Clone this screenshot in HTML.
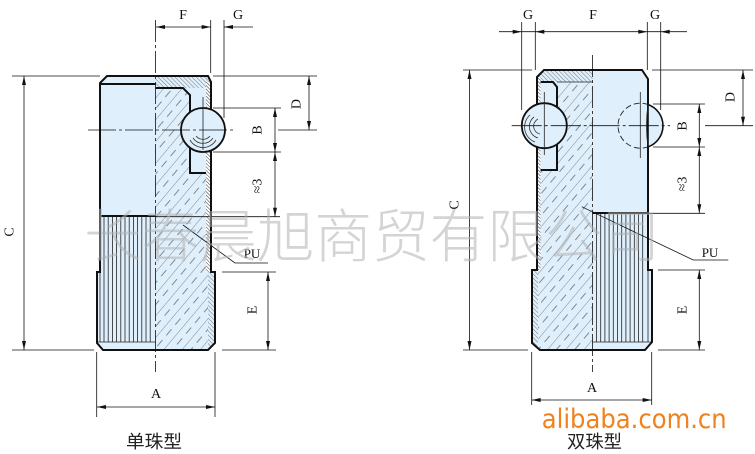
<!DOCTYPE html>
<html><head><meta charset="utf-8">
<style>
html,body{margin:0;padding:0;background:#fff;}
svg{display:block;}
.t{font-family:"Liberation Serif",serif;font-size:14px;fill:#111;}
</style></head>
<body>
<svg width="755" height="454" viewBox="0 0 755 454" xmlns="http://www.w3.org/2000/svg">
<defs>
<pattern id="h1" width="14" height="14" patternUnits="userSpaceOnUse" patternTransform="rotate(40)">
<line x1="0" y1="0" x2="0" y2="14" stroke="#444" stroke-width="0.6"/>
<line x1="7" y1="2" x2="7" y2="10" stroke="#444" stroke-width="0.6"/>
</pattern>
<pattern id="h2" width="3" height="3" patternUnits="userSpaceOnUse" patternTransform="rotate(-45)">
<line x1="0" y1="0" x2="0" y2="3" stroke="#444" stroke-width="0.7"/>
</pattern>
<pattern id="h3" width="2.5" height="2.5" patternUnits="userSpaceOnUse" patternTransform="rotate(-45)">
<line x1="0" y1="0" x2="0" y2="2.5" stroke="#222" stroke-width="0.9"/>
</pattern>
<clipPath id="cL"><path d="M100,83 L107,76 L208,76 L211,82 L211,272 L215,272 L215,343 L208,350 L103,350 L97,343 L97,272 L100,272 Z"/></clipPath>
<clipPath id="cR"><path d="M537,77 L544,70 L642,70 L648,79 L648,270 L652,270 L652,342 L645,350 L540,350 L532,343 L532,270 L537,270 Z"/></clipPath>
</defs>
<rect width="755" height="454" fill="#fff"/>

<!-- ============ LEFT FIGURE ============ -->
<g>
<path d="M100,83 L107,76 L208,76 L211,82 L211,272 L215,272 L215,343 L208,350 L103,350 L97,343 L97,272 L100,272 Z" fill="#dff0fc"/>
<g clip-path="url(#cL)">
<rect x="155.5" y="88" width="53" height="262" fill="url(#h1)"/>
<rect x="155.5" y="76" width="56" height="12" fill="url(#h2)"/>
<rect x="206" y="82" width="5" height="190" fill="#fff"/>
<rect x="206" y="82" width="5" height="190" fill="url(#h3)"/>
<rect x="208" y="272" width="7" height="74" fill="#dff0fc"/>
<rect x="208" y="272" width="7" height="74" fill="url(#h2)"/>
</g>
<polygon points="183,88 190,95 190,173 206,173 206,88" fill="#dff0fc"/>
<g stroke="#222" stroke-width="0.8">
<line x1="104" y1="216" x2="104" y2="342"/><line x1="108.2" y1="216" x2="108.2" y2="342"/>
<line x1="112.4" y1="216" x2="112.4" y2="342"/><line x1="116.6" y1="216" x2="116.6" y2="342"/>
<line x1="120.8" y1="216" x2="120.8" y2="342"/><line x1="125" y1="216" x2="125" y2="342"/>
<line x1="129.2" y1="216" x2="129.2" y2="342"/><line x1="133.4" y1="216" x2="133.4" y2="342"/>
<line x1="137.6" y1="216" x2="137.6" y2="342"/><line x1="141.8" y1="216" x2="141.8" y2="342"/>
<line x1="146" y1="216" x2="146" y2="342"/><line x1="150.2" y1="216" x2="150.2" y2="342"/>
<line x1="100" y1="272" x2="100" y2="342"/>
<line x1="97" y1="342" x2="155.5" y2="342"/>
</g>
<g stroke="#111" stroke-width="2" fill="none">
<path d="M100,83 L107,76 L208,76 L211,82 L211,272 L215,272 L215,343 L208,350 L103,350 L97,343 L97,272 L100,272 Z"/>
<line x1="100" y1="84" x2="155.5" y2="84"/>
<line x1="100" y1="216" x2="155.5" y2="216"/>
<path d="M155.5,88 L183,88 L190,95 L190,173 L206,173"/>
</g>
<circle cx="203" cy="130" r="22" fill="#dff0fc" stroke="#111" stroke-width="1.8"/>
<line x1="203" y1="97" x2="203" y2="150" stroke="#222" stroke-width="0.8"/>
<g fill="none" stroke="#333" stroke-width="0.8">
<path d="M196,136 A9,9 0 0 0 210,136"/>
<path d="M193,138 A12,12 0 0 0 213,138"/>
<path d="M190,140 A15,15 0 0 0 216,140"/>
</g>
</g>

<!-- left dims -->
<g stroke="#111" stroke-width="0.8" fill="none">
<line x1="155.5" y1="20" x2="155.5" y2="372" stroke-dasharray="22,3,3,3"/>
<line x1="88" y1="130" x2="235" y2="130" stroke-dasharray="28,3,3,3"/>
<line x1="210.7" y1="20" x2="210.7" y2="73"/>
<line x1="224" y1="20" x2="224" y2="118"/>
<line x1="156" y1="27" x2="210.7" y2="27"/>
<line x1="224" y1="27" x2="253" y2="27"/>
<line x1="12" y1="76" x2="100" y2="76"/>
<line x1="213" y1="76" x2="317" y2="76"/>
<line x1="24" y1="76" x2="24" y2="350"/>
<line x1="12" y1="350" x2="94" y2="350"/>
<line x1="309" y1="76" x2="309" y2="130"/>
<line x1="278" y1="130" x2="317" y2="130"/>
<line x1="275" y1="108" x2="275" y2="216.7"/>
<line x1="213" y1="108" x2="281" y2="108"/>
<line x1="213" y1="152" x2="281" y2="152"/>
<line x1="155.5" y1="216.7" x2="280" y2="216.7"/>
<line x1="268" y1="272" x2="268" y2="350"/>
<line x1="222" y1="272" x2="276" y2="272"/>
<line x1="222" y1="350" x2="276" y2="350"/>
<line x1="97" y1="407" x2="215" y2="407"/>
<line x1="96.7" y1="352" x2="96.7" y2="417"/>
<line x1="215" y1="352" x2="215" y2="417"/>
<polyline points="183,225 235,263 268,263"/>
</g>
<g fill="#111">
<polygon points="156,27 165,25 165,29"/>
<polygon points="210.7,27 201.7,25 201.7,29"/>
<polygon points="224,27 233,25 233,29"/>
<polygon points="24,76 22,85 26,85"/>
<polygon points="24,350 22,341 26,341"/>
<polygon points="309,76 307,85 311,85"/>
<polygon points="309,130 307,121 311,121"/>
<polygon points="275,108 273,117 277,117"/>
<polygon points="275,152 273,143 277,143"/>
<polygon points="275,152 273,161 277,161"/>
<polygon points="275,216.7 273,207.7 277,207.7"/>
<polygon points="268,272 266,281 270,281"/>
<polygon points="268,350 266,341 270,341"/>
<polygon points="97,407 106,405 106,409"/>
<polygon points="215,407 206,405 206,409"/>
</g>
<g class="t">
<text x="183" y="19" text-anchor="middle">F</text>
<text x="238" y="19" text-anchor="middle">G</text>
<text x="156" y="398" text-anchor="middle">A</text>
<text x="252" y="258" text-anchor="middle" font-size="13">PU</text>
<text transform="translate(297,104) rotate(-90)" text-anchor="middle" dominant-baseline="central">D</text>
<text transform="translate(258,130) rotate(-90)" text-anchor="middle" dominant-baseline="central">B</text>
<text transform="translate(258,186) rotate(-90)" text-anchor="middle" dominant-baseline="central">≈3</text>
<text transform="translate(253,310) rotate(-90)" text-anchor="middle" dominant-baseline="central">E</text>
<text transform="translate(10,232) rotate(-90)" text-anchor="middle" dominant-baseline="central">C</text>
</g>

<!-- ============ RIGHT FIGURE ============ -->
<g>
<path d="M537,77 L544,70 L642,70 L648,79 L648,270 L652,270 L652,342 L645,350 L540,350 L532,343 L532,270 L537,270 Z" fill="#dff0fc"/>
<g clip-path="url(#cR)">
<rect x="538" y="82" width="54.5" height="268" fill="url(#h1)"/>
<rect x="537" y="70" width="55.5" height="12" fill="url(#h2)"/>
<rect x="537" y="77" width="3.5" height="193" fill="#fff"/>
<rect x="537" y="77" width="3.5" height="193" fill="url(#h3)"/>
<rect x="532" y="270" width="6" height="76" fill="#dff0fc"/>
<rect x="532" y="270" width="6" height="76" fill="url(#h2)"/>
</g>
<polygon points="540.5,82 553,82 557,87 557,170 540.5,170" fill="#dff0fc"/>
<g stroke="#222" stroke-width="0.8">
<line x1="596.5" y1="213" x2="596.5" y2="342"/><line x1="600.7" y1="213" x2="600.7" y2="342"/>
<line x1="604.9" y1="213" x2="604.9" y2="342"/><line x1="609.1" y1="213" x2="609.1" y2="342"/>
<line x1="613.3" y1="213" x2="613.3" y2="342"/><line x1="617.5" y1="213" x2="617.5" y2="342"/>
<line x1="621.7" y1="213" x2="621.7" y2="342"/><line x1="625.9" y1="213" x2="625.9" y2="342"/>
<line x1="630.1" y1="213" x2="630.1" y2="342"/><line x1="634.3" y1="213" x2="634.3" y2="342"/>
<line x1="638.5" y1="213" x2="638.5" y2="342"/><line x1="642.7" y1="213" x2="642.7" y2="342"/>
<line x1="648" y1="270" x2="648" y2="342"/>
<line x1="592.5" y1="342" x2="652" y2="342"/>
<line x1="557" y1="82" x2="592.5" y2="82"/>
</g>
<g stroke="#111" stroke-width="2" fill="none">
<path d="M537,77 L544,70 L642,70 L648,79 L648,270 L652,270 L652,342 L645,350 L540,350 L532,343 L532,270 L537,270 Z"/>
<path d="M540.5,82 L553,82 L557,87 L557,170 L540.5,170"/>
<line x1="592.5" y1="213" x2="648" y2="213"/>
</g>
<circle cx="640.5" cy="125.7" r="22.5" fill="none" stroke="#222" stroke-width="0.9" stroke-dasharray="6,3"/>
<path d="M648,104.5 A22.5,22.5 0 0 1 648,146.9 Z" fill="#dff0fc" stroke="#111" stroke-width="1.6"/>
<path d="M648,104.5 Q645,125.7 648,146.9" fill="none" stroke="#222" stroke-width="0.8"/>
<line x1="640.3" y1="92" x2="640.3" y2="158" stroke="#222" stroke-width="0.8"/>
<circle cx="544.3" cy="125.7" r="22.5" fill="#dff0fc" stroke="#111" stroke-width="1.8"/>
<line x1="544.3" y1="92" x2="544.3" y2="155" stroke="#222" stroke-width="0.8"/>
<g fill="none" stroke="#333" stroke-width="0.8">
<path d="M538,119 A8,8 0 0 0 540,134"/>
<path d="M534,117 A12,12 0 0 0 538,138"/>
<path d="M530,115 A16,16 0 0 0 535,142"/>
</g>
</g>

<!-- right dims -->
<g stroke="#111" stroke-width="0.8" fill="none">
<line x1="592.5" y1="55" x2="592.5" y2="372" stroke-dasharray="22,3,3,3"/>
<line x1="511.7" y1="125.7" x2="670" y2="125.7" stroke-dasharray="30,3,3,3"/>
<line x1="499" y1="31.7" x2="687" y2="31.7"/>
<line x1="521.7" y1="22" x2="521.7" y2="110"/>
<line x1="535.3" y1="22" x2="535.3" y2="70"/>
<line x1="647.3" y1="22" x2="647.3" y2="70"/>
<line x1="660.7" y1="22" x2="660.7" y2="110"/>
<line x1="463" y1="70" x2="532" y2="70"/>
<line x1="652" y1="70" x2="753" y2="70"/>
<line x1="469.5" y1="70" x2="469.5" y2="350"/>
<line x1="463" y1="350" x2="528" y2="350"/>
<line x1="743" y1="70" x2="743" y2="125.7"/>
<line x1="705" y1="125.7" x2="753" y2="125.7"/>
<line x1="699.3" y1="104" x2="699.3" y2="213.3"/>
<line x1="653" y1="104" x2="705" y2="104"/>
<line x1="653" y1="147" x2="705" y2="147"/>
<line x1="648" y1="213.3" x2="705" y2="213.3"/>
<line x1="699.3" y1="270" x2="699.3" y2="350"/>
<line x1="658" y1="270" x2="705" y2="270"/>
<line x1="658" y1="350" x2="705" y2="350"/>
<line x1="531.7" y1="400" x2="651.7" y2="400"/>
<line x1="531.7" y1="352" x2="531.7" y2="405"/>
<line x1="651.7" y1="352" x2="651.7" y2="405"/>
<polyline points="581.7,206.7 693.3,260 728.3,260"/>
</g>
<g fill="#111">
<polygon points="521.7,31.7 512.7,29.7 512.7,33.7"/>
<polygon points="535.3,31.7 544.3,29.7 544.3,33.7"/>
<polygon points="647.3,31.7 638.3,29.7 638.3,33.7"/>
<polygon points="660.7,31.7 669.7,29.7 669.7,33.7"/>
<polygon points="469.5,70 467.5,79 471.5,79"/>
<polygon points="469.5,350 467.5,341 471.5,341"/>
<polygon points="743,70 741,79 745,79"/>
<polygon points="743,125.7 741,116.7 745,116.7"/>
<polygon points="699.3,104 697.3,113 701.3,113"/>
<polygon points="699.3,147 697.3,138 701.3,138"/>
<polygon points="699.3,147 697.3,156 701.3,156"/>
<polygon points="699.3,213.3 697.3,204.3 701.3,204.3"/>
<polygon points="699.3,270 697.3,279 701.3,279"/>
<polygon points="699.3,350 697.3,341 701.3,341"/>
<polygon points="531.7,400 540.7,398 540.7,402"/>
<polygon points="651.7,400 642.7,398 642.7,402"/>
</g>
<g class="t">
<text x="528" y="19" text-anchor="middle">G</text>
<text x="593" y="19" text-anchor="middle">F</text>
<text x="655" y="19" text-anchor="middle">G</text>
<text x="592" y="392" text-anchor="middle">A</text>
<text x="710" y="257" text-anchor="middle" font-size="13">PU</text>
<text transform="translate(731,97) rotate(-90)" text-anchor="middle" dominant-baseline="central">D</text>
<text transform="translate(683,126) rotate(-90)" text-anchor="middle" dominant-baseline="central">B</text>
<text transform="translate(683,184) rotate(-90)" text-anchor="middle" dominant-baseline="central">≈3</text>
<text transform="translate(683,310) rotate(-90)" text-anchor="middle" dominant-baseline="central">E</text>
<text transform="translate(455,205) rotate(-90)" text-anchor="middle" dominant-baseline="central">C</text>
</g>

<text x="126" y="448" font-family="'Liberation Sans','Noto Sans CJK SC',sans-serif" font-size="18" fill="#222" textLength="56" lengthAdjust="spacingAndGlyphs">单珠型</text>
<text x="567" y="448" font-family="'Liberation Sans','Noto Sans CJK SC',sans-serif" font-size="18" fill="#222" textLength="55" lengthAdjust="spacingAndGlyphs">双珠型</text>
<text x="541.7" y="428" font-family="'DejaVu Sans',sans-serif" font-size="27" fill="#F0821E" textLength="185" lengthAdjust="spacingAndGlyphs">alibaba.com.cn</text>

<text x="84" y="257" font-family="'Liberation Sans','Noto Sans CJK SC',sans-serif" font-size="58" font-weight="300" fill="#b0b0b0" fill-opacity="0.55" textLength="576" lengthAdjust="spacingAndGlyphs">长春晨旭商贸有限公司</text>
</svg>
</body></html>
